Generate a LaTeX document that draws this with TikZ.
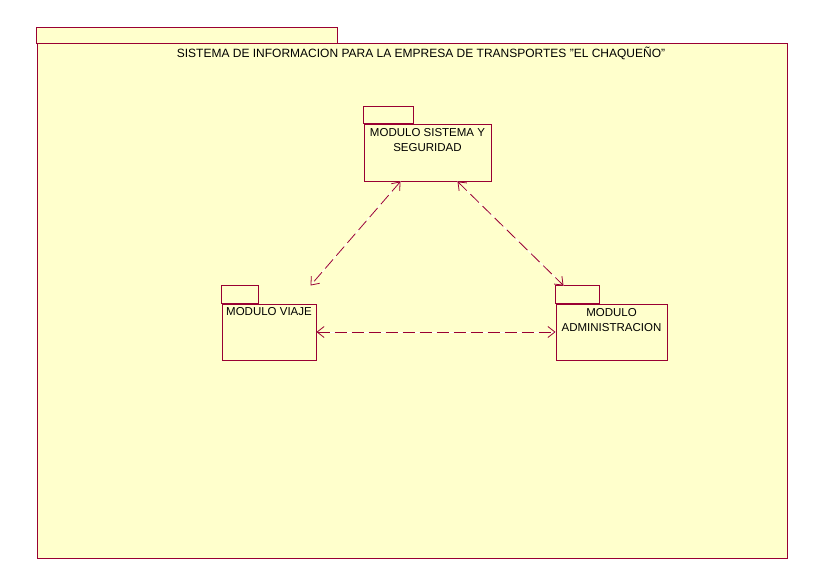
\documentclass[tikz,border=0pt]{standalone}
\usepackage{fontspec}
\setmainfont{Liberation Sans}
\usetikzlibrary{arrows.meta}
\definecolor{borde}{RGB}{153,0,51}
\definecolor{fondo}{RGB}{255,255,204}
\tikzset{
  paquete/.style={draw=borde, fill=fondo, line width=1pt, inner sep=0pt},
  texto/.style={font=\fontsize{11.5}{15}\selectfont, align=center, inner sep=0pt},
  dep/.style={draw=borde, line width=0.8pt, dash pattern=on 12pt off 5pt,
    preaction={draw=white, -, solid, line width=0.6pt},
    {Straight Barb[length=7pt,width=11pt]}-{Straight Barb[length=7pt,width=11pt]}},
}
\begin{document}
\begin{tikzpicture}[x=1pt,y=-1pt]
\useasboundingbox (0,0) rectangle (824,586);
% paquete principal
\node[paquete, minimum width=750pt, minimum height=514pt] (sistema) at (412,301) {};
\draw[paquete] (sistema.north west) rectangle ++(301,-16);
\node[texto, font=\fontsize{12}{15}\selectfont, anchor=base] (titulo) at (421,58) {SISTEMA DE INFORMACION PARA LA EMPRESA DE TRANSPORTES \char34 EL CHAQUE\~NO\char34};
% modulos
\node[paquete, minimum width=127pt, minimum height=57pt] (sis) at (427.5,152.5) {};
\node[paquete, minimum width=94pt, minimum height=56pt] (via) at (269,332) {};
\node[paquete, minimum width=111pt, minimum height=56pt] (adm) at (611.5,332) {};
\foreach \n/\w/\h in {sis/50/17,via/37/18,adm/44/18}
  \draw[paquete] (\n.north west) rectangle ++(\w,-\h);
\node[texto, anchor=north, yshift=-5pt] (sist) at (sis.north) {MODULO SISTEMA Y\\SEGURIDAD};
\node[texto, anchor=north, yshift=-4pt] (viat) at (via.north) {MODULO VIAJE};
\node[texto, anchor=north, yshift=-5pt] (admt) at (adm.north) {MODULO\\ADMINISTRACION};
% dependencias
\draw[dep] ([xshift=37pt]sis.south west) -- ([xshift=-6pt,yshift=18pt]via.north east);
\draw[dep] ([xshift=94pt]sis.south west) -- ([xshift=8pt,yshift=18pt]adm.north west);
\draw[dep] (via.east) -- (adm.west);
\end{tikzpicture}
\end{document}
